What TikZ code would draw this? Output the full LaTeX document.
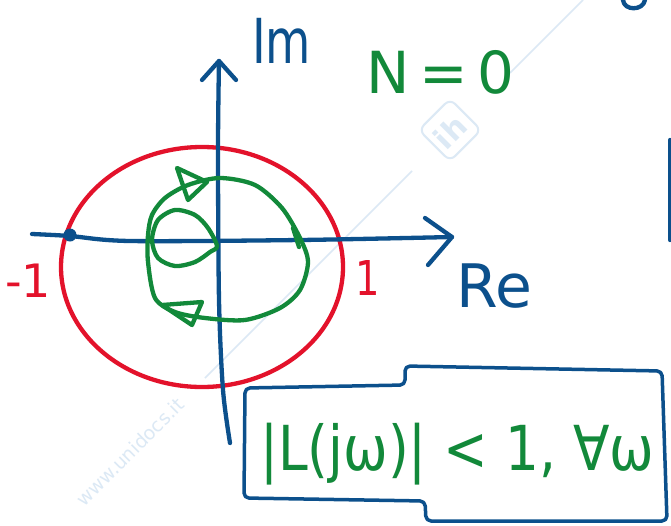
\documentclass[tikz,border=0pt]{standalone}
\usepackage{fontspec}
\setmainfont{DejaVu Sans}
\usetikzlibrary{shapes.geometric}
\definecolor{inkblue}{HTML}{0C508C}
\definecolor{inkred}{HTML}{E3122B}
\definecolor{inkgreen}{HTML}{12893A}
\definecolor{wmark}{HTML}{DCE9F5}
\begin{document}
\begin{tikzpicture}[x=1pt,y=-1pt,
  pen/.style={line width=4.3pt,line cap=round,line join=round},
  bluepen/.style={pen,draw=inkblue},
  redpen/.style={pen,draw=inkred},
  greenpen/.style={pen,draw=inkgreen},
  lbl/.style={inner sep=0pt,anchor=base west},
  wm/.style={draw=wmark,line width=1.5pt}]
\useasboundingbox (0,0) rectangle (671,525);
\fill[white] (0,0) rectangle (671,525);
% watermark
\draw[wm] (583,0) -- (510,73);
\draw[wm] (412,171) -- (205,378);
\node[rotate=45,text=wmark,inner sep=0pt,font=\fontsize{19}{19}\selectfont] (wmtext) at (130,452) {www.unidocs.it};
\node[draw=wmark,line width=2pt,rounded corners=7pt,minimum size=44pt,rotate=45] (logo) at (450,130) {};
\node[rotate=45,text=wmark,inner sep=0pt,font=\bfseries\fontsize{30}{30}\selectfont] (logotext) at (450,132) {ih};
% unit circle
\draw[redpen] (202,267) ellipse [x radius=141, y radius=120];
% axes
\coordinate (imtop) at (219,61);
\coordinate (retip) at (452,237);
\draw[bluepen] plot[smooth] coordinates {(219,61) (218,150) (219,300) (223,390) (230,443)};
\draw[bluepen] (202,80) -- (imtop) -- (236,80);
\draw[bluepen] plot[smooth] coordinates {(32,234) (70,236) (130,241) (300,240) (452,237)};
\draw[bluepen] (425,218) -- (retip) -- (428,265);
\fill[inkblue] (70,235) circle (6.5);
% labels
\node[lbl,text=inkblue,font=\fontsize{62}{62}\selectfont] (im) at (252,63) {\scalebox{0.75}[1]{Im}};
\node[lbl,text=inkblue,font=\fontsize{60}{60}\selectfont] (re) at (456,307) {Re};
\node[lbl,text=inkgreen,font=\fontsize{58}{58}\selectfont] (n) at (366,93) {N{\,}={\,}0};
\node[lbl,text=inkred,font=\fontsize{46}{46}\selectfont] (m1) at (5,297) {-1};
\node[lbl,text=inkred,font=\fontsize{48}{48}\selectfont] (p1) at (355,295) {\scalebox{0.8}[1]{1}};
% Nyquist plot
\draw[greenpen] plot[smooth cycle] coordinates {(188,185) (220,178) (255,185) (282,208) (300,238) (308,262) (300,290) (280,308) (245,320) (205,318) (175,312) (155,298) (148,262) (148,235) (152,215) (165,198)};
\draw[greenpen] plot[smooth cycle] coordinates {(217,246) (208,228) (195,215) (175,210) (158,220) (152,240) (158,258) (175,266) (195,262) (210,252)};
\draw[greenpen] (177,168) -- (207,182) -- (188,200) -- cycle;
\draw[greenpen] (162,305) -- (202,302) -- (192,325) -- cycle;
\draw[greenpen] (293,228) -- (299,247);
% condition box
\draw[bluepen,line width=3.5pt,rounded corners=5pt] (245,388) -- (405,385) -- (405,366) -- (662,371) -- (667,521) -- (426,521) -- (425,501) -- (244,498) -- cycle;
\node[lbl,text=inkgreen,font=\fontsize{62}{62}\selectfont] (cond) at (260,470) {\scalebox{0.86}[1]{|L(jω)| < 1, ∀ω}};
% fragments at edges
\draw[bluepen] (623,0) .. controls (624,11) and (643,11) .. (645,0);
\draw[bluepen] (670,140) -- (670,240);
\end{tikzpicture}
\end{document}
